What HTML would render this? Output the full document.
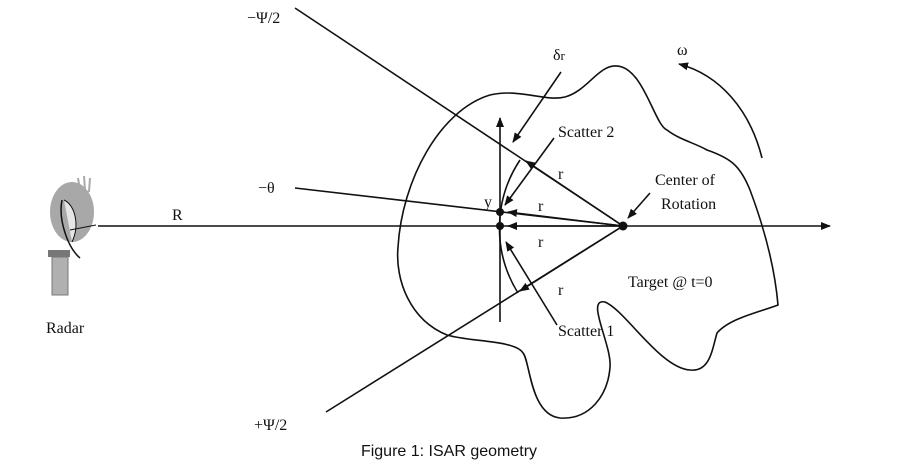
<!DOCTYPE html>
<html><head><style>
body{margin:0;background:#fff;}
svg text{font-family:"Liberation Serif",serif;font-size:16px;fill:#111;}
</style></head><body>
<svg width="916" height="467" viewBox="0 0 916 467" xmlns="http://www.w3.org/2000/svg">
<defs>
<marker id="a" markerWidth="10" markerHeight="8" refX="9" refY="4" orient="auto" markerUnits="userSpaceOnUse"><path d="M0,0 L10,4 L0,8 Z" fill="#111"/></marker>
</defs>
<g stroke="#111" stroke-width="1.6" fill="none">
<path d="M490,95 C520,88 545,102 565,97 C590,90 600,60 622,67 C645,75 655,125 667,130 C680,140 695,143 707,150 C730,158 740,165 750,190 C765,230 775,270 778,305 C760,312 730,318 717,333 C712,350 710,372 690,370 C660,368 625,310 605,302 C585,298 612,345 610,367 C608,395 590,420 560,418 C530,415 530,360 523,353 C515,340 470,342 447,335 C410,320 395,280 398,247 C402,180 440,110 490,95 Z"/>
<line x1="98" y1="226" x2="830" y2="226" marker-end="url(#a)"/>
<line x1="500" y1="322" x2="500" y2="118" marker-end="url(#a)"/>
<line x1="295" y1="8" x2="623" y2="226"/>
<line x1="326" y1="412" x2="623" y2="226"/>
<line x1="295" y1="188" x2="623" y2="226"/>
<line x1="623" y1="226" x2="508" y2="212" marker-end="url(#a)"/>
<line x1="623" y1="226" x2="508" y2="226" marker-end="url(#a)"/>
<line x1="623" y1="226" x2="526" y2="161" marker-end="url(#a)"/>
<line x1="623" y1="226" x2="520" y2="291" marker-end="url(#a)"/>
<path d="M520,160 A123,123 0 0 0 518,293"/>
<path d="M762,158 C750,110 720,75 679,64" marker-end="url(#a)"/>
<line x1="561" y1="72" x2="513" y2="142" marker-end="url(#a)"/>
<line x1="554" y1="138" x2="505" y2="205" marker-end="url(#a)"/>
<line x1="650" y1="193" x2="628" y2="218" marker-end="url(#a)"/>
<line x1="557" y1="325" x2="506" y2="242" marker-end="url(#a)"/>
</g>
<circle cx="500" cy="212" r="4" fill="#111"/>
<circle cx="500" cy="226" r="4" fill="#111"/>
<circle cx="623" cy="226" r="4.5" fill="#111"/>
<!-- radar -->
<g>
<path d="M78,178 L80,190 M84,176 L85,190 M90,178 L89,192" stroke="#aaa" stroke-width="2"/>
<ellipse cx="72" cy="212" rx="22" ry="30" fill="#a8a8a8"/>
<path d="M62,200 C58,220 68,248 80,258" stroke="#111" stroke-width="1.5" fill="none"/>
<path d="M64,200 C75,205 80,225 72,242" stroke="#111" fill="#e6e6e6"/>
<line x1="70" y1="230" x2="96" y2="225" stroke="#111"/>
<rect x="48" y="250" width="22" height="7" fill="#777"/>
<rect x="52" y="257" width="16" height="38" fill="#b0b0b0" stroke="#777"/>
</g>
<text x="247" y="23" font-size="18">−Ψ/2</text>
<text x="258" y="193" font-size="17">−θ</text>
<text x="172" y="220">R</text>
<text x="254" y="430" font-size="18">+Ψ/2</text>
<text x="46" y="333">Radar</text>
<text x="553" y="60" font-size="17">δ<tspan font-size="13">r</tspan></text>
<text x="677" y="55" font-size="17">ω</text>
<text x="558" y="137">Scatter 2</text>
<text x="558" y="179" font-size="14">r</text>
<text x="538" y="211" font-size="14">r</text>
<text x="538" y="247" font-size="14">r</text>
<text x="558" y="295" font-size="14">r</text>
<text x="484" y="207">y</text>
<text x="655" y="185">Center of</text>
<text x="661" y="209">Rotation</text>
<text x="628" y="287">Target @ t=0</text>
<text x="558" y="336">Scatter 1</text>
<text x="449" y="456" text-anchor="middle" style="font-family:'Liberation Sans',sans-serif;font-size:16px">Figure 1: ISAR geometry</text>
</svg>
</body></html>
